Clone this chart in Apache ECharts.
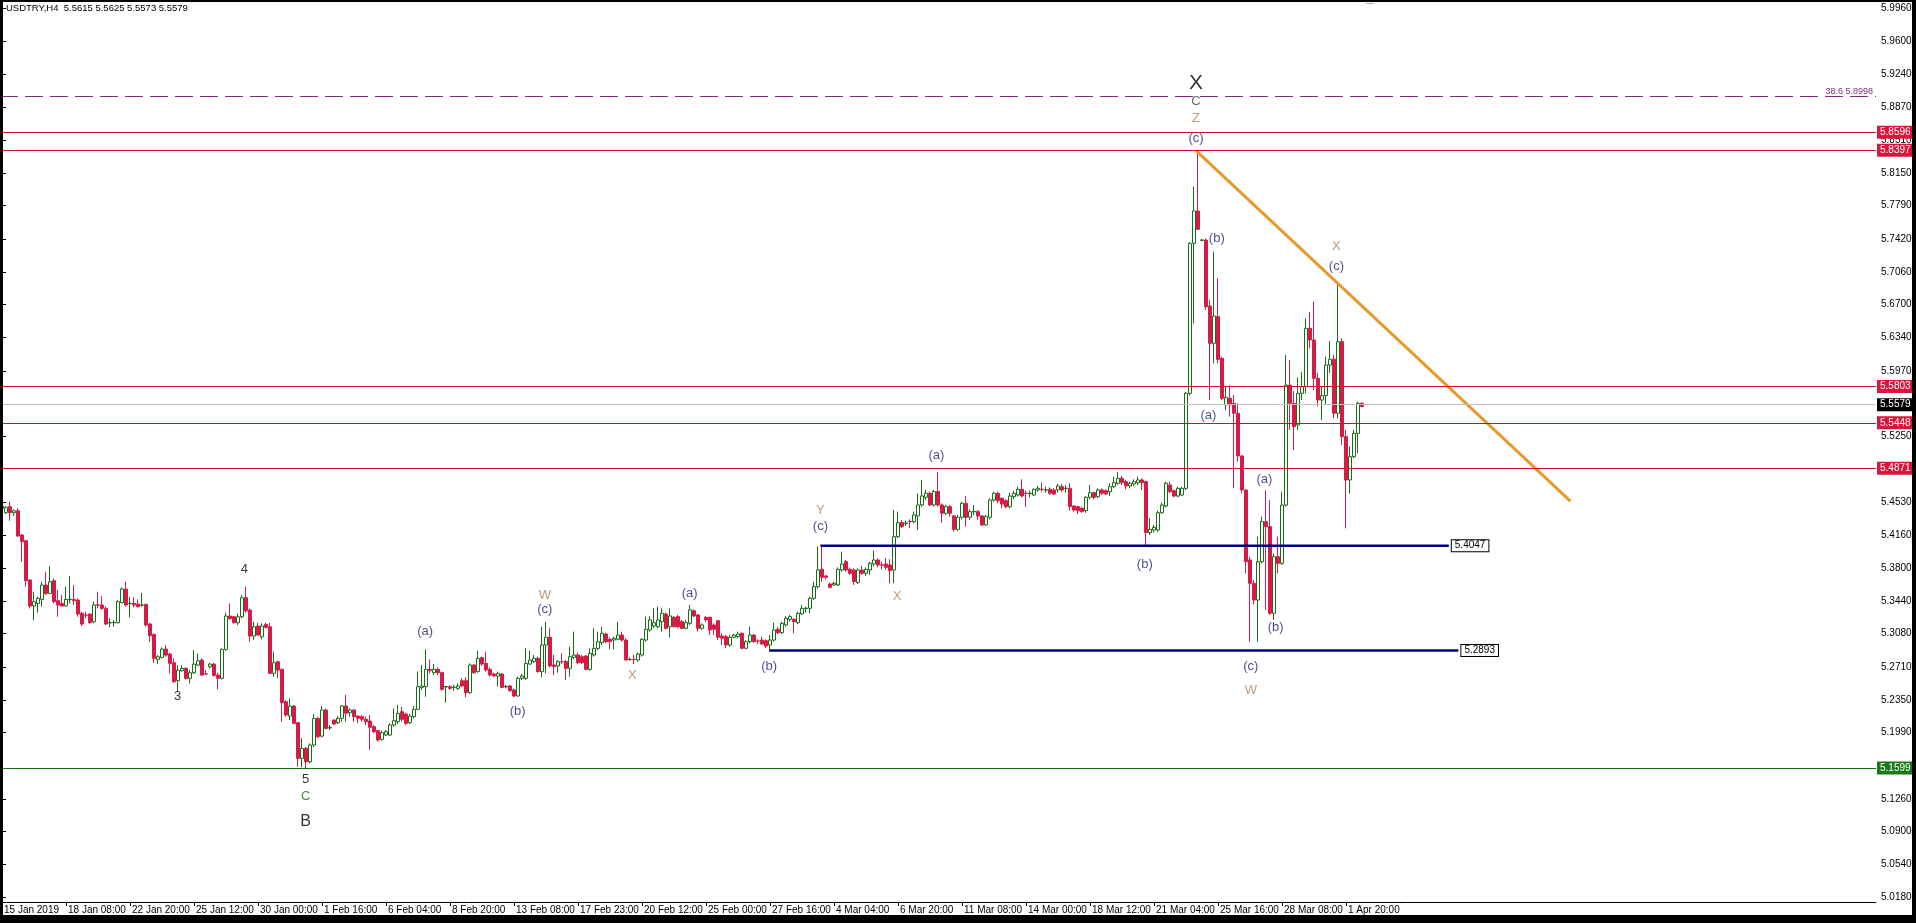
<!DOCTYPE html>
<html><head><meta charset="utf-8">
<script src="https://cdn.jsdelivr.net/npm/echarts/dist/echarts.min.js"></script>
<style>html,body{margin:0;padding:0;background:#fff;overflow:hidden}#c{width:1916px;height:923px}</style>
</head><body><div id="c"></div>
<script>
// ---------- DATA ----------
const chartTitle = 'USDTRY,H4  5.5615 5.5625 5.5573 5.5579';
// [open, close, low, high] per H4 bar, starting 15 Jan 2019 16:00
const candles = [
[5.4460,5.4480,5.4410,5.4520],[5.4410,5.4470,5.4396,5.4484],[5.4477,5.4410,5.4322,5.4532],[5.4410,5.4432,5.4374,5.4447],
[5.4432,5.4154,5.4146,5.4458],[5.4165,5.4091,5.3871,5.4176],[5.4102,5.3662,5.3596,5.4110],[5.3669,5.3383,5.3357,5.3676],
[5.3383,5.3431,5.3229,5.3541],[5.3412,5.3467,5.3310,5.3486],[5.3456,5.3614,5.3376,5.3651],[5.3614,5.3522,5.3504,5.3761],
[5.3522,5.3651,5.3515,5.3823],[5.3662,5.3431,5.3412,5.3687],[5.3442,5.3394,5.3265,5.3559],[5.3412,5.3383,5.3376,5.3504],
[5.3383,5.3456,5.3376,5.3596],[5.3452,5.3458,5.3412,5.3713],[5.3456,5.3442,5.3394,5.3614],[5.3449,5.3295,5.3265,5.3467],
[5.3302,5.3185,5.3163,5.3320],[5.3285,5.3283,5.3247,5.3320],[5.3295,5.3199,5.3192,5.3302],[5.3210,5.3394,5.3192,5.3431],
[5.3396,5.3392,5.3357,5.3541],[5.3394,5.3357,5.3339,5.3493],[5.3357,5.3185,5.3174,5.3376],[5.3197,5.3201,5.3148,5.3247],
[5.3199,5.3203,5.3155,5.3229],[5.3199,5.3431,5.3192,5.3449],[5.3420,5.3570,5.3412,5.3588],[5.3570,5.3394,5.3376,5.3651],
[5.3410,5.3414,5.3258,5.3486],[5.3412,5.3394,5.3368,5.3478],[5.3405,5.3376,5.3368,5.3456],[5.3392,5.3396,5.3376,5.3530],
[5.3401,5.3174,5.3155,5.3412],[5.3185,5.3056,5.2990,5.3199],[5.3071,5.2807,5.2759,5.3082],[5.2796,5.2825,5.2744,5.2843],
[5.2818,5.2909,5.2807,5.2928],[5.2909,5.2843,5.2825,5.2953],[5.2854,5.2752,5.2642,5.2869],[5.2759,5.2550,5.2539,5.2807],
[5.2561,5.2678,5.2440,5.2733],[5.2671,5.2697,5.2660,5.2733],[5.2697,5.2587,5.2576,5.2708],[5.2587,5.2649,5.2531,5.2678],
[5.2649,5.2744,5.2634,5.2898],[5.2733,5.2781,5.2722,5.2862],[5.2788,5.2623,5.2612,5.2807],[5.2636,5.2634,5.2623,5.2678],
[5.2715,5.2744,5.2697,5.2759],[5.2744,5.2620,5.2605,5.2759],[5.2623,5.2587,5.2465,5.2649],[5.2587,5.2906,5.2576,5.2917],
[5.2906,5.3273,5.2891,5.3310],[5.3273,5.3247,5.3229,5.3412],[5.3265,5.3199,5.3192,5.3273],[5.3199,5.3265,5.3174,5.3302],
[5.3265,5.3475,5.3247,5.3504],[5.3475,5.3331,5.3310,5.3596],[5.3339,5.3053,5.2990,5.3357],[5.3053,5.3155,5.3009,5.3210],
[5.3163,5.3064,5.3053,5.3199],[5.3045,5.3163,5.3016,5.3192],[5.3181,5.3148,5.3137,5.3199],[5.3155,5.2642,5.2634,5.3199],
[5.2642,5.2759,5.2605,5.2880],[5.2770,5.2678,5.2587,5.2781],[5.2686,5.2319,5.2109,5.2697],[5.2330,5.2183,5.2164,5.2348],
[5.2172,5.2282,5.2128,5.2366],[5.2282,5.2091,5.2084,5.2293],[5.2098,5.1706,5.1614,5.2109],[5.1706,5.1816,5.1607,5.1926],
[5.1816,5.1669,5.1599,5.1834],[5.1669,5.1853,5.1651,5.1871],[5.1853,5.2146,5.1834,5.2194],[5.2146,5.1944,5.1926,5.2164],
[5.1951,5.2238,5.1937,5.2282],[5.2238,5.2036,5.2025,5.2256],[5.2040,5.2047,5.2018,5.2073],[5.2128,5.2084,5.2073,5.2136],
[5.2099,5.2147,5.2084,5.2172],[5.2147,5.2283,5.2110,5.2294],[5.2283,5.2202,5.2110,5.2404],[5.2209,5.2239,5.2165,5.2257],
[5.2239,5.2165,5.2110,5.2246],[5.2172,5.2147,5.2092,5.2183],[5.2165,5.2136,5.2110,5.2183],[5.2136,5.2110,5.2073,5.2165],
[5.2117,5.2048,5.1798,5.2183],[5.2055,5.2000,5.1982,5.2073],[5.2011,5.1908,5.1890,5.2018],[5.1916,5.1989,5.1901,5.2011],
[5.1963,5.2000,5.1952,5.2018],[5.1963,5.2073,5.1952,5.2092],[5.2073,5.2121,5.2055,5.2257],[5.2110,5.2202,5.2084,5.2294],
[5.2220,5.2136,5.2110,5.2275],[5.2194,5.2092,5.2073,5.2209],[5.2099,5.2172,5.2084,5.2194],[5.2165,5.2246,5.2147,5.2283],
[5.2246,5.2495,5.2239,5.2661],[5.2488,5.2503,5.2459,5.2734],[5.2495,5.2686,5.2385,5.2906],[5.2686,5.2672,5.2642,5.2796],
[5.2650,5.2686,5.2624,5.2745],[5.2686,5.2650,5.2624,5.2708],[5.2650,5.2466,5.2451,5.2661],[5.2492,5.2498,5.2319,5.2503],
[5.2495,5.2477,5.2459,5.2510],[5.2486,5.2490,5.2451,5.2514],[5.2477,5.2503,5.2459,5.2532],[5.2561,5.2503,5.2488,5.2587],
[5.2561,5.2429,5.2378,5.2598],[5.2429,5.2734,5.2415,5.2752],[5.2734,5.2650,5.2635,5.2745],[5.2661,5.2807,5.2650,5.2892],
[5.2815,5.2745,5.2723,5.2826],[5.2752,5.2679,5.2661,5.2881],[5.2686,5.2624,5.2606,5.2708],[5.2635,5.2613,5.2606,5.2650],
[5.2613,5.2642,5.2495,5.2661],[5.2635,5.2488,5.2477,5.2642],[5.2493,5.2497,5.2477,5.2514],[5.2503,5.2451,5.2440,5.2514],
[5.2459,5.2393,5.2378,5.2477],[5.2393,5.2587,5.2385,5.2606],[5.2587,5.2613,5.2569,5.2635],[5.2587,5.2752,5.2569,5.2917],
[5.2745,5.2789,5.2734,5.2892],[5.2771,5.2807,5.2760,5.2844],[5.2807,5.2661,5.2650,5.2826],[5.2661,5.2954,5.2598,5.3156],
[5.2954,5.3039,5.2642,5.3211],[5.3039,5.2723,5.2708,5.3138],[5.2734,5.2716,5.2624,5.2844],[5.2723,5.2771,5.2650,5.2789],
[5.2771,5.2769,5.2745,5.2862],[5.2771,5.2697,5.2569,5.2789],[5.2697,5.2826,5.2606,5.2936],[5.2818,5.2844,5.2796,5.3101],
[5.2844,5.2760,5.2745,5.2870],[5.2826,5.2760,5.2745,5.2844],[5.2833,5.2686,5.2679,5.2844],[5.2686,5.2862,5.2672,5.2917],
[5.2844,5.2917,5.2826,5.3138],[5.2917,5.2991,5.2899,5.3101],[5.2980,5.3083,5.2954,5.3156],[5.3075,5.2991,5.2973,5.3090],
[5.3017,5.2991,5.2906,5.3039],[5.3009,5.3028,5.2906,5.3046],[5.3017,5.3064,5.3009,5.3211],[5.3064,5.3009,5.2991,5.3101],
[5.3009,5.2789,5.2782,5.3028],[5.2793,5.2796,5.2782,5.2818],[5.2796,5.2794,5.2745,5.2844],[5.2789,5.2855,5.2771,5.2870],
[5.2844,5.3017,5.2826,5.3028],[5.3009,5.3127,5.2991,5.3266],[5.3120,5.3230,5.3101,5.3270],[5.3164,5.3200,5.3138,5.3358],
[5.3156,5.3230,5.3138,5.3376],[5.3211,5.3303,5.3101,5.3358],[5.3296,5.3138,5.3127,5.3310],[5.3156,5.3274,5.3039,5.3358],
[5.3259,5.3156,5.3149,5.3274],[5.3266,5.3156,5.3138,5.3285],[5.3211,5.3138,5.3127,5.3230],[5.3138,5.3200,5.3127,5.3230],
[5.3193,5.3340,5.3175,5.3395],[5.3332,5.3274,5.3259,5.3347],[5.3285,5.3138,5.3101,5.3296],[5.3138,5.3175,5.3120,5.3193],
[5.3259,5.3230,5.3211,5.3274],[5.3259,5.3120,5.3064,5.3266],[5.3175,5.3127,5.3064,5.3193],[5.3222,5.3039,5.3009,5.3230],
[5.3053,5.3028,5.2954,5.3083],[5.3046,5.2954,5.2918,5.3064],[5.2954,5.3039,5.2936,5.3064],[5.3039,5.3064,5.3028,5.3075],
[5.3046,5.3075,5.3028,5.3101],[5.3083,5.2918,5.2907,5.3090],[5.2918,5.2991,5.2907,5.3009],[5.2991,5.3064,5.2973,5.3156],
[5.3064,5.2991,5.2980,5.3075],[5.2999,5.2997,5.2965,5.3017],[5.3009,5.2965,5.2954,5.3046],[5.3002,5.2943,5.2918,5.3017],
[5.2954,5.3009,5.2893,5.3064],[5.3009,5.3120,5.2991,5.3200],[5.3127,5.3090,5.3075,5.3156],[5.3090,5.3193,5.3075,5.3211],
[5.3175,5.3248,5.3156,5.3274],[5.3237,5.3266,5.3211,5.3285],[5.3237,5.3211,5.3083,5.3248],[5.3200,5.3303,5.3186,5.3321],
[5.3296,5.3358,5.3285,5.3395],[5.3356,5.3360,5.3310,5.3376],[5.3358,5.3468,5.3303,5.3487],[5.3468,5.3597,5.3450,5.3652],
[5.3597,5.3780,5.3578,5.4037],[5.3787,5.3699,5.3652,5.4047],[5.3714,5.3699,5.3677,5.3725],[5.3626,5.3589,5.3578,5.3641],
[5.3615,5.3633,5.3604,5.3652],[5.3615,5.3787,5.3604,5.3809],[5.3780,5.3846,5.3762,5.3982],[5.3872,5.3780,5.3762,5.3890],
[5.3787,5.3743,5.3725,5.3809],[5.3780,5.3652,5.3615,5.3798],[5.3641,5.3780,5.3626,5.3798],[5.3780,5.3743,5.3725,5.3824],
[5.3743,5.3787,5.3714,5.3809],[5.3780,5.3854,5.3725,5.3872],[5.3846,5.3890,5.3824,5.3993],[5.3890,5.3835,5.3809,5.3909],
[5.3837,5.3833,5.3787,5.3872],[5.3846,5.3809,5.3780,5.3909],[5.3835,5.3773,5.3633,5.3898],[5.3780,5.4147,5.3633,5.4441],
[5.4147,5.4301,5.4129,5.4422],[5.4301,5.4257,5.4239,5.4331],[5.4290,5.4296,5.4264,5.4323],[5.4314,5.4310,5.4239,5.4338],
[5.4312,5.4386,5.4294,5.4422],[5.4375,5.4496,5.4220,5.4624],[5.4496,5.4595,5.4477,5.4771],[5.4580,5.4624,5.4551,5.4661],
[5.4624,5.4496,5.4485,5.4643],[5.4496,5.4643,5.4477,5.4661],[5.4643,5.4496,5.4477,5.4860],[5.4496,5.4404,5.4301,5.4514],
[5.4404,5.4477,5.4386,5.4496],[5.4477,5.4404,5.4367,5.4496],[5.4374,5.4227,5.4202,5.4385],[5.4227,5.4360,5.4213,5.4385],
[5.4360,5.4514,5.4338,5.4532],[5.4514,5.4360,5.4257,5.4594],[5.4360,5.4422,5.4330,5.4448],[5.4420,5.4424,5.4385,5.4495],
[5.4422,5.4374,5.4330,5.4440],[5.4374,5.4275,5.4264,5.4385],[5.4275,5.4367,5.4264,5.4385],[5.4360,5.4550,5.4338,5.4569],
[5.4550,5.4624,5.4532,5.4642],[5.4624,5.4543,5.4514,5.4642],[5.4569,5.4506,5.4459,5.4580],[5.4543,5.4477,5.4459,5.4558],
[5.4477,5.4594,5.4459,5.4631],[5.4587,5.4624,5.4558,5.4653],[5.4605,5.4668,5.4587,5.4697],[5.4668,5.4594,5.4580,5.4778],
[5.4626,5.4622,5.4477,5.4653],[5.4620,5.4626,5.4580,5.4653],[5.4605,5.4668,5.4594,5.4679],[5.4661,5.4679,5.4642,5.4705],
[5.4670,5.4666,5.4642,5.4741],[5.4659,5.4663,5.4631,5.4697],[5.4668,5.4624,5.4605,5.4690],[5.4661,5.4616,5.4605,5.4679],
[5.4661,5.4705,5.4631,5.4727],[5.4697,5.4661,5.4642,5.4727],[5.4677,5.4681,5.4631,5.4716],[5.4679,5.4477,5.4433,5.4734],
[5.4484,5.4440,5.4422,5.4495],[5.4477,5.4433,5.4396,5.4484],[5.4459,5.4422,5.4411,5.4477],[5.4433,5.4580,5.4411,5.4594],
[5.4580,5.4631,5.4558,5.4716],[5.4631,5.4580,5.4558,5.4642],[5.4587,5.4661,5.4569,5.4679],[5.4661,5.4624,5.4605,5.4679],
[5.4653,5.4616,5.4605,5.4668],[5.4642,5.4697,5.4594,5.4734],[5.4697,5.4741,5.4679,5.4807],[5.4734,5.4789,5.4716,5.4862],
[5.4789,5.4741,5.4716,5.4815],[5.4752,5.4705,5.4668,5.4771],[5.4705,5.4734,5.4679,5.4752],[5.4727,5.4752,5.4705,5.4778],
[5.4741,5.4771,5.4716,5.4807],[5.4771,5.4741,5.4661,5.4789],[5.4752,5.4191,5.4047,5.4763],[5.4191,5.4227,5.4165,5.4349],
[5.4220,5.4249,5.4191,5.4275],[5.4220,5.4411,5.4202,5.4433],[5.4411,5.4495,5.4396,5.4521],[5.4484,5.4734,5.4470,5.4752],
[5.4716,5.4642,5.4624,5.4752],[5.4653,5.4594,5.4580,5.4668],[5.4594,5.4679,5.4580,5.4697],[5.4605,5.4679,5.4594,5.4697],
[5.4679,5.5725,5.4660,5.5740],[5.5724,5.7376,5.5700,5.7390],[5.7376,5.7732,5.6495,5.8000],[5.7732,5.7530,5.7523,5.8397],
[5.7409,5.7413,5.7398,5.7420],[5.7412,5.6678,5.6642,5.7431],[5.6686,5.6275,5.5651,5.6752],[5.6275,5.6576,5.6055,5.7284],
[5.6569,5.6099,5.6055,5.6991],[5.6110,5.5670,5.5650,5.6128],[5.5600,5.5680,5.5540,5.5800],[5.5670,5.5596,5.5468,5.5817],
[5.5615,5.5505,5.4679,5.5706],[5.5505,5.5035,5.4972,5.5615],[5.5035,5.4660,5.4624,5.5046],[5.4660,5.3871,5.3743,5.4668],
[5.3890,5.3633,5.2991,5.3926],[5.3633,5.3449,5.3400,5.3670],[5.3449,5.3871,5.2991,5.4147],[5.3871,5.4312,5.3853,5.4367],
[5.4312,5.4257,5.3339,5.4660],[5.4257,5.3303,5.3285,5.4550],[5.3303,5.3926,5.3229,5.3963],[5.3926,5.3853,5.3743,5.4147],
[5.3853,5.4495,5.3835,5.4642],[5.4495,5.5816,5.4477,5.6146],[5.5816,5.5615,5.5321,5.6091],[5.5615,5.5358,5.5101,5.5750],
[5.5376,5.5725,5.5321,5.5900],[5.5725,5.5800,5.5650,5.5960],[5.5800,5.6440,5.5724,5.6550],[5.6440,5.6312,5.6220,5.6620],
[5.6312,5.5890,5.5760,5.6734],[5.5890,5.5651,5.5580,5.5950],[5.5651,5.5700,5.5432,5.5800],[5.5700,5.6036,5.5600,5.6128],
[5.6036,5.6100,5.5950,5.6300],[5.6100,5.5505,5.5450,5.6150],[5.5505,5.6293,5.5450,5.6954],[5.6293,5.5248,5.5156,5.6330],
[5.5248,5.4771,5.4238,5.5321],[5.4771,5.5028,5.4624,5.5138],[5.5028,5.5284,5.5010,5.5321],[5.5284,5.5615,5.5065,5.5633],
[5.5615,5.5579,5.5573,5.5625]
];
const yTickLabels = ['5.0180','5.0540','5.0900','5.1260','5.1990','5.2350','5.2710','5.3080','5.3440','5.3800','5.4160','5.4530','5.5250','5.5970','5.6340','5.6700','5.7060','5.7420','5.7790','5.8150','5.8510','5.8870','5.9240','5.9600','5.9960'];
const redLevels = [5.8596, 5.8397, 5.5803, 5.5448, 5.4871];
const lastPrice = 5.5579;
const greenLevel = 5.1599;
const fibLevel = 5.8998;
const fibRatio = '38.6';
// horizontal segments: [price, fromBar, toBar]
const blueSegments = [[5.4047, 204.6, 361.7], [5.2893, 191.8, 364.1]];
// trendline: [bar, price]
const trendLine = [[298.5, 5.8397], [392.1, 5.4539]];
// wave labels: [text, bar, price, kind]
const waveLabels = [
 ['4',60.6,5.3787,'k'],['3',43.9,5.2387,'k'],['5',75.9,5.1472,'k'],['C',75.9,5.1284,'g'],['B',75.9,5.1015,'kb'],
 ['(a)',105.8,5.3100,'n'],['(b)',128.9,5.2225,'n'],['W',135.7,5.3503,'t'],['(c)',135.7,5.3342,'n'],
 ['X',157.6,5.2615,'t'],['(a)',171.9,5.3517,'n'],['(b)',191.8,5.2723,'n'],['Y',204.6,5.4431,'t'],['(c)',204.6,5.4257,'n'],
 ['X',223.8,5.3490,'t'],['(a)',233.6,5.5037,'n'],['(b)',285.7,5.3840,'n'],
 ['X',298.5,5.9139,'kx'],['C',298.5,5.8938,'d'],['Z',298.5,5.8749,'t'],['(c)',298.5,5.8534,'n'],
 ['(b)',303.7,5.7431,'n'],['(a)',301.6,5.5480,'n'],['(a)',315.6,5.4781,'n'],['(b)',318.4,5.3153,'n'],
 ['(c)',312.2,5.2723,'n'],['W',312.2,5.2454,'t'],['X',333.6,5.7337,'t'],['(c)',333.6,5.7122,'n']
];
const MONTHS = ['Jan','Feb','Mar','Apr','May','Jun','Jul','Aug','Sep','Oct','Nov','Dec'];

// ---------- STYLE ----------
const BULL = '#1b6b1b', BEAR = '#d41c46', LEVEL_RED = '#c8102e', NAVY = '#000080';
const FONT = '"Liberation Sans", Arial, sans-serif';
const SLOTS = 469;
const labelStyles = {
  k:{color:'#000',size:13}, kb:{color:'#000',size:16}, kx:{color:'#000',size:21},
  g:{color:'#1d6e1d',size:13}, d:{color:'#444',size:13}, n:{color:'#1c1c6b',size:13}, t:{color:'#b58156',size:13}
};

// ---------- categories (H4 bars: Mon-Fri 00..20, Sunday 23:00) ----------
const pad = v => (v < 10 ? '0' : '') + v;
const categories = [];
(function(){
  let t = Date.UTC(2019,0,15,16);
  while (categories.length < candles.length) {
    const d = new Date(t), wd = d.getUTCDay(), h = d.getUTCHours();
    if ((wd >= 1 && wd <= 5 && h % 4 === 0) || (wd === 0 && h === 23))
      categories.push(d.getUTCDate() + ' ' + MONTHS[d.getUTCMonth()] + ' ' + pad(h) + ':00');
    t += 3600000;
  }
  while (categories.length < SLOTS) categories.push('');
})();
const showIdx = (i) => i % 16 === 0 && i < candles.length;

const chart = echarts.init(document.getElementById('c'), null, {renderer:'canvas'});

const markLines = [];
redLevels.forEach(v => markLines.push({yAxis:v, lineStyle:{color:LEVEL_RED,width:1,type:'solid'},
  label:{show:true,position:'end',distance:1,formatter:v.toFixed(4),color:'#fff',backgroundColor:'#dc143c',padding:[2,3,1,3],fontSize:10,fontFamily:FONT}}));
markLines.push({yAxis:lastPrice, lineStyle:{color:'#c0c0c0',width:1,type:'solid'},
  label:{show:true,position:'end',distance:1,formatter:lastPrice.toFixed(4),color:'#fff',backgroundColor:'#000',padding:[2,3,1,3],fontSize:10,fontFamily:FONT}});
markLines.push({yAxis:greenLevel, lineStyle:{color:'#1a6b1a',width:1,type:'solid'},
  label:{show:true,position:'end',distance:1,formatter:greenLevel.toFixed(4),color:'#fff',backgroundColor:'#1a7a1a',padding:[2,3,1,3],fontSize:10,fontFamily:FONT}});
markLines.push({yAxis:fibLevel, lineStyle:{color:'#7a2f7a',width:1,type:[18,7]},
  label:{show:true,position:'insideEndTop',distance:[3,0],formatter:fibRatio+' '+fibLevel.toFixed(4),color:'#7a2f7a',fontSize:9,fontFamily:FONT}});

const series = [{
  type:'candlestick', xAxisIndex:0, yAxisIndex:0, data:candles, barWidth:3,
  itemStyle:{color:'#ffffff', color0:BEAR, borderColor:BULL, borderColor0:BEAR, borderWidth:1},
  markLine:{symbol:'none', silent:true, animation:false, data:markLines}
}];
blueSegments.forEach(s => series.push({
  type:'line', xAxisIndex:1, yAxisIndex:0, data:[[s[1],s[0]],[s[2],s[0]]], symbol:'none',
  lineStyle:{color:NAVY,width:2.5}, silent:true,
  endLabel:{show:true,formatter:s[0].toFixed(4),color:'#000',backgroundColor:'#fff',borderColor:'#000',borderWidth:1,padding:[1,3,0,3],fontSize:10,fontFamily:FONT,distance:3}
}));
series.push({type:'line', xAxisIndex:1, yAxisIndex:0, data:trendLine, symbol:'none', silent:true,
  lineStyle:{color:'#e59b2c',width:3}});
series.push({type:'scatter', xAxisIndex:1, yAxisIndex:0, symbolSize:1, silent:true,
  itemStyle:{color:'rgba(0,0,0,0)'},
  data: waveLabels.map(w => ({value:[w[1],w[2]], label:{show:true,position:'inside',formatter:w[0],
    color:labelStyles[w[3]].color,fontSize:labelStyles[w[3]].size,fontFamily:FONT}}))
});

chart.setOption({
  animation:false,
  backgroundColor:'#ffffff',
  grid:{left:-3, right:40, top:3, bottom:21, containLabel:false},
  xAxis:[{
    type:'category', data:categories, boundaryGap:true, position:'bottom',
    axisLine:{show:true,lineStyle:{color:'#000',width:1}},
    axisTick:{show:true,alignWithLabel:true,interval:showIdx,length:4,lineStyle:{color:'#000'}},
    axisLabel:{interval:showIdx,align:'left',margin:3,padding:[0,0,0,2],color:'#000',fontSize:10,fontFamily:FONT,
      formatter:(v,i)=> i===0 ? '15 Jan 2019' : v},
    splitLine:{show:false}
  },{
    type:'value', min:-0.5, max:SLOTS-0.5, show:false
  }],
  yAxis:{
    type:'value', position:'right', min:5.0125, max:6.00215, scale:true,
    axisLine:{show:true,lineStyle:{color:'#000',width:1}},
    axisTick:{show:true,length:4,lineStyle:{color:'#000'},customValues:yTickLabels.map(Number)},
    axisLabel:{show:true,margin:5,color:'#000',fontSize:10,fontFamily:FONT,customValues:yTickLabels.map(Number),
      formatter:v=>Number(v).toFixed(4)},
    splitLine:{show:false}
  },
  graphic:[
    {type:'text',left:6,top:3,z:100,style:{text:chartTitle,fill:'#000',font:'9.5px '+FONT}},
    {type:'rect',shape:{x:1366,y:3,width:8,height:1},style:{fill:'#b0b0b0'},z:100},
    {type:'rect',shape:{x:0,y:0,width:1916,height:2},style:{fill:'#000'},z:100},
    {type:'rect',shape:{x:0,y:0,width:3,height:923},style:{fill:'#000'},z:100},
    {type:'rect',shape:{x:1912,y:0,width:4,height:923},style:{fill:'#000'},z:100},
    {type:'rect',shape:{x:0,y:915,width:1916,height:8},style:{fill:'#000'},z:100}
  ],
  series:series
});
</script></body></html>
